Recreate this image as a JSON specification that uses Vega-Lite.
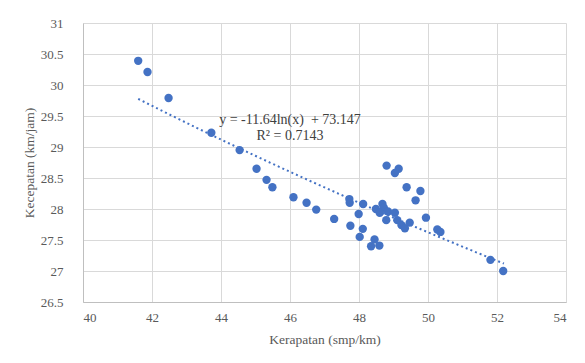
{
  "$schema": "https://vega.github.io/schema/vega-lite/v6.json",
  "width": 483,
  "height": 279,
  "autosize": "none",
  "padding": {"left": 83, "top": 23, "right": 19, "bottom": 61},
  "background": "white",
  "config": {
    "view": {"stroke": null},
    "font": "Liberation Serif",
    "axis": {
      "gridColor": "#d9d9d9",
      "gridWidth": 1,
      "domainColor": "#bfbfbf",
      "ticks": false,
      "labelOverlap": false,
      "labelFont": "Liberation Serif",
      "labelFontSize": 13,
      "labelColor": "#595959",
      "titleFont": "Liberation Serif",
      "titleFontSize": 13.5,
      "titleFontWeight": "normal",
      "titleColor": "#595959"
    }
  },
  "datasets": {
    "pts": [
      {"x": 41.6, "y": 30.39},
      {"x": 41.87, "y": 30.21},
      {"x": 42.48, "y": 29.79},
      {"x": 43.72, "y": 29.23},
      {"x": 44.54, "y": 28.95},
      {"x": 45.03, "y": 28.65},
      {"x": 45.32, "y": 28.47},
      {"x": 45.49, "y": 28.35},
      {"x": 46.1, "y": 28.19},
      {"x": 46.48, "y": 28.1},
      {"x": 46.76, "y": 27.99},
      {"x": 47.28, "y": 27.84},
      {"x": 47.72, "y": 28.16},
      {"x": 47.73, "y": 28.1},
      {"x": 47.75, "y": 27.73},
      {"x": 47.99, "y": 27.92},
      {"x": 48.12, "y": 28.08},
      {"x": 48.11, "y": 27.68},
      {"x": 48.02, "y": 27.55},
      {"x": 48.8, "y": 28.7},
      {"x": 49.15, "y": 28.65},
      {"x": 49.04, "y": 28.58},
      {"x": 49.38, "y": 28.35},
      {"x": 49.78, "y": 28.29},
      {"x": 49.64, "y": 28.14},
      {"x": 48.68, "y": 28.08},
      {"x": 48.72, "y": 28.02},
      {"x": 48.49, "y": 28.0},
      {"x": 48.6, "y": 27.94},
      {"x": 48.84, "y": 27.96},
      {"x": 48.79, "y": 27.82},
      {"x": 49.04, "y": 27.94},
      {"x": 49.11, "y": 27.82},
      {"x": 49.23, "y": 27.74},
      {"x": 49.33, "y": 27.69},
      {"x": 49.47, "y": 27.78},
      {"x": 49.94, "y": 27.86},
      {"x": 50.27, "y": 27.67},
      {"x": 50.36, "y": 27.63},
      {"x": 48.45, "y": 27.51},
      {"x": 48.35, "y": 27.4},
      {"x": 48.59, "y": 27.41},
      {"x": 51.81, "y": 27.18},
      {"x": 52.18, "y": 27.0}
    ],
    "labels": [
      {"x": 46.0, "y": 29.43, "t": "y = -11.64ln(x) \u00a0+ 73.147"},
      {"x": 46.0, "y": 29.18, "t": "R² = 0.7143"}
    ]
  },
  "layer": [
    {
      "data": {"name": "pts"},
      "transform": [{"regression": "y", "on": "x", "method": "log", "extent": [41.6, 52.2]}],
      "mark": {"type": "line", "color": "#4472C4", "strokeWidth": 2, "strokeDash": [2, 3], "clip": true},
      "encoding": {
        "x": {"field": "x", "type": "quantitative",
          "scale": {"domain": [40, 54], "nice": false, "zero": false},
          "axis": {"tickCount": 7, "title": "Kerapatan (smp/km)", "labelPadding": 9, "titlePadding": 8}},
        "y": {"field": "y", "type": "quantitative",
          "scale": {"domain": [26.5, 31], "nice": false, "zero": false},
          "axis": {"tickCount": 10, "title": "Kecepatan (km/jam)", "labelPadding": 20, "titlePadding": 4, "labelExpr": "format(datum.value, '~g')"}}
      }
    },
    {
      "data": {"name": "pts"},
      "mark": {"type": "circle", "color": "#4472C4", "opacity": 1, "size": 70},
      "encoding": {
        "x": {"field": "x", "type": "quantitative"},
        "y": {"field": "y", "type": "quantitative"}
      }
    },
    {
      "data": {"name": "labels"},
      "mark": {"type": "text", "font": "Liberation Serif", "fontSize": 14, "color": "#404040"},
      "encoding": {
        "x": {"field": "x", "type": "quantitative"},
        "y": {"field": "y", "type": "quantitative"},
        "text": {"field": "t"}
      }
    }
  ]
}
